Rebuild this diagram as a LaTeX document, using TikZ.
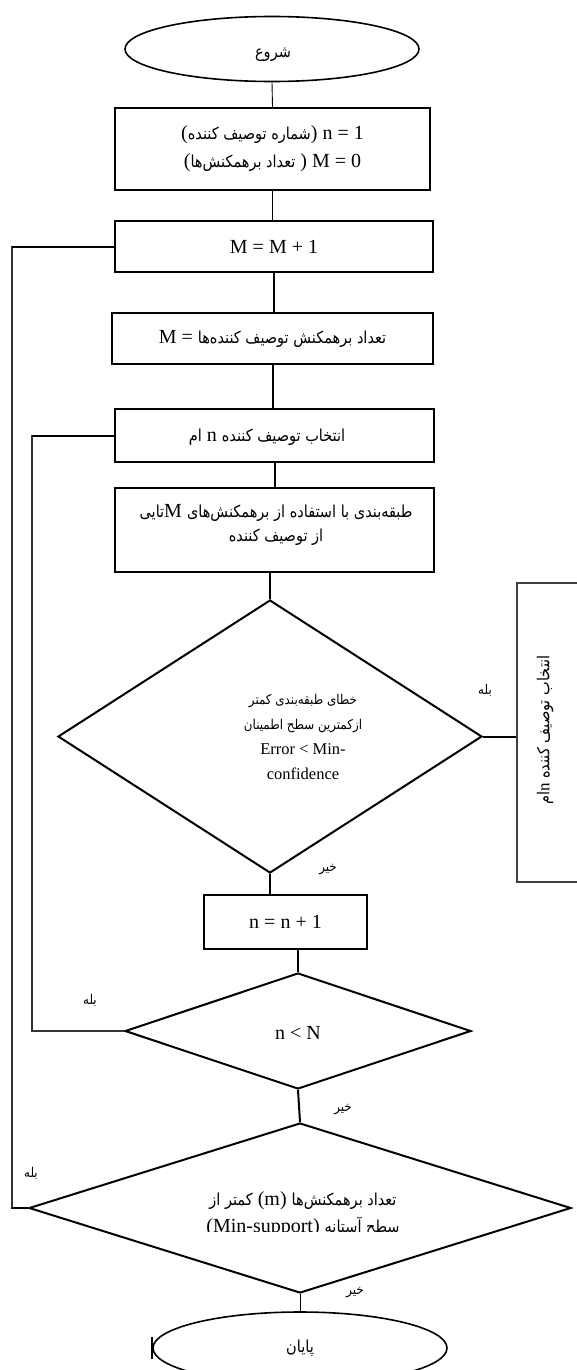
\documentclass[tikz,border=0pt]{standalone}
\usepackage{fontspec}
\setmainfont{Liberation Serif}
\newfontfamily\fa[Script=Arabic,FakeStretch=0.88]{DejaVu Sans}
\TeXXeTstate=1
\usetikzlibrary{shapes.geometric}
\newcommand{\Fa}[1]{{\fa\fontsize{16.5}{25}\selectfont\beginR #1\endR}}
\newcommand{\Fm}[1]{{\fa\fontsize{13.5}{25}\selectfont\beginR #1\endR}}
\begin{document}
\begin{tikzpicture}[x=1pt,y=-1pt,
  box/.style={draw, line width=2pt, rectangle, inner sep=0pt, align=center, font=\fontsize{20}{28}\selectfont},
  dia/.style={draw, diamond, line width=2pt, inner sep=0pt},
  term/.style={draw, ellipse, line width=1.6pt, inner sep=0pt},
  conn/.style={line width=2pt},
  thinconn/.style={line width=0.9pt},
  loopline/.style={line width=1.2pt, black!80},
  lbl/.style={font=\fa\fontsize{13.5}{15}\selectfont, inner sep=0pt},
  txt/.style={inner sep=0pt, align=center, font=\fontsize{20}{25}\selectfont}]
\useasboundingbox (0,0) rectangle (576,1370);
\fill[white] (0,0) rectangle (576,1370);

\node[term, minimum width=294pt, minimum height=65pt] (start) at (272,49) {};
\node[inner sep=0pt] (startt) at (273,55) {\Fa{شروع}};
\node[box, minimum width=315pt, minimum height=82pt] (box1) at (272.5,149)
  {(\Fa{شماره توصیف کننده}) n = 1\\ (\Fa{تعداد برهمکنش‌ها} ) M = 0};
\node[box, minimum width=318pt, minimum height=51pt] (box2) at (274,246.5) {M = M + 1};
\node[box, minimum width=321pt, minimum height=51pt] (box3) at (272.5,338.5) {M = \Fa{تعداد برهمکنش توصیف کننده‌ها}};
\node[box, minimum width=319pt, minimum height=53pt] (box4) at (274.5,435.5) {};
\node[inner sep=0pt, font=\fontsize{20}{25}\selectfont] (box4t) at (267,437) {\Fa{ام} n \Fa{انتخاب توصیف کننده}};
\node[box, minimum width=319pt, minimum height=84pt] (box5) at (274.5,530) {};
\node[txt, font=\fontsize{20}{24}\selectfont] (box5t) at (276,525)
  {\Fa{تایی}M \Fa{طبقه‌بندی با استفاده از برهمکنش‌های}\\ \Fa{از توصیف کننده}};
\node[dia, minimum width=424pt, minimum height=273pt] (d1) at (270,736.5) {};
\node[txt, font=\fontsize{16.5}{25}\selectfont] (d1t) at (303,737) {\Fm{خطای طبقه‌بندی کمتر}\\ \Fm{ازکمترین سطح اطمینان}\\ Error < Min-\\ confidence};
\node[draw, line width=1.2pt, black!75, minimum width=68pt, minimum height=299pt, inner sep=0pt] (rbox) at (551,732.5) {};
\node[rotate=90, inner sep=0pt, font=\fontsize{17}{18}\selectfont] (rtext) at (545,730) {\Fa{ام}n \Fa{انتخاب توصیف کننده}};
\node[box, minimum width=163pt, minimum height=54pt] (box6) at (285.5,922) {n = n + 1};
\node[dia, minimum width=346pt, minimum height=116pt] (d2) at (298,1031) {};
\node[txt] (d2t) at (298,1033) {n < N};
\node[dia, minimum width=542pt, minimum height=170pt] (d3) at (300,1208) {};
\begin{scope}
  \clip (150,1180) rectangle (460,1231);
  \node[txt, font=\fontsize{20}{27}\selectfont] (d3t) at (303,1214) {\Fa{کمتر از} (m) \Fa{تعداد برهمکنش‌ها}\\ (Min-support) \Fa{سطح آستانه}};
\end{scope}
\node[term, minimum width=294pt, minimum height=72pt] (end) at (300,1348) {\Fa{پایان}};
\draw[line width=1.6pt] ([yshift=-11pt]end.west) -- ([yshift=11pt]end.west);

% labels
\node[lbl] (y1) at (485,690) {\beginR بله\endR};
\node[lbl] (n1) at (328,870) {\beginR خیر\endR};
\node[lbl] (y2) at (90,1000) {\beginR بله\endR};
\node[lbl] (n2) at (343,1110) {\beginR خیر\endR};
\node[lbl] (y3) at (31,1173) {\beginR بله\endR};
\node[lbl] (n3) at (355,1293) {\beginR خیر\endR};

% connectors
\draw[thinconn] (start.south) -- (box1.north);
\draw[thinconn] (box1.south) -- (box1.south |- box2.north);
\draw[conn] (box2.south) -- (box2.south |- box3.north);
\draw[conn] (box3.south) -- (box3.south |- box4.north);
\draw[conn] (box4.south) -- (box4.south |- box5.north);
\draw[conn] (d1.north) -- (d1.north |- box5.south);
\draw[conn] (d1.south) -- (d1.south |- box6.north);
\draw[conn] (d2.north) -- (d2.north |- box6.south);
\draw[conn] (d2.south) -- (d3.north);
\draw[thinconn] (d3.south) -- (end.north);
\draw[conn] (d1.east) -- (rbox.west |- d1.east);
\draw[loopline] (box2.west) -- ++(-102,0) |- (d3.west);
\draw[conn] (box2.west) -- ++(-102,0);
\draw[conn] (d3.west) -- ++(-17,0);
\draw[loopline] (box4.west) -- ++(-82,0) |- (d2.west);
\draw[conn] (box4.west) -- ++(-82,0);
\end{tikzpicture}
\end{document}
